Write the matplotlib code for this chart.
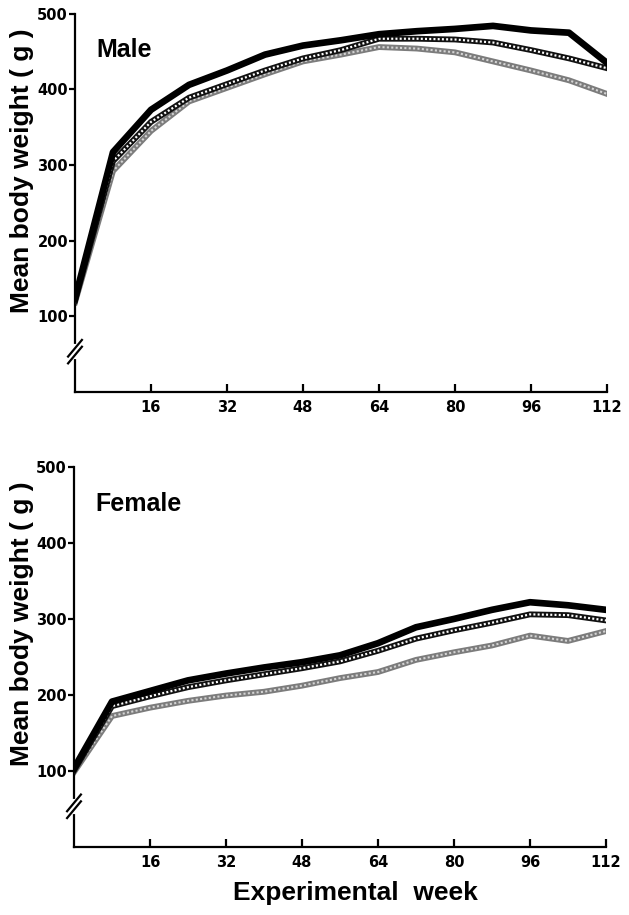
import matplotlib
matplotlib.use('Agg')
import matplotlib.pyplot as plt
import numpy as np

# experimental weeks (8-week intervals)
weeks = [0, 8, 16, 24, 32, 40, 48, 56, 64, 72, 80, 88, 96, 104, 112]

# Male mean body weight (g)
male_black = [123, 317, 373, 406, 425, 446, 458, 465, 473, 477, 480, 484, 478, 475, 435]
male_hatch = [120, 305, 357, 389, 407, 425, 441, 452, 467, 467, 466, 462, 452, 441, 428]
male_grey = [118, 292, 345, 384, 402, 420, 437, 446, 456, 454, 449, 437, 425, 412, 394]

# Female mean body weight (g)
female_black = [103, 191, 205, 219, 228, 236, 243, 252, 268, 289, 300, 312, 322, 318, 312]
female_hatch = [100, 185, 198, 210, 219, 227, 235, 244, 258, 274, 285, 295, 306, 305, 298]
female_grey = [98, 172, 183, 192, 199, 204, 212, 222, 230, 246, 256, 265, 278, 271, 284]

x_ticks = [16, 32, 48, 64, 80, 96, 112]
y_ticks = [100, 200, 300, 400, 500]

label_font = 'Liberation Sans'
tick_font = 'DejaVu Sans'

fig = plt.figure(figsize=(6.29, 9.15), dpi=100)


def draw_panel(ax, black, hatch, grey, title):
    # light grey textured line
    ax.plot(weeks, grey, color='#7c7c7c', lw=4.2, solid_joinstyle='round', zorder=2)
    ax.plot(weeks, grey, color='#d4d4d4', lw=1.5, ls=(0, (1, 1.1)), zorder=2.1)
    # cross-hatched line
    ax.plot(weeks, hatch, color='#111111', lw=4.2, solid_joinstyle='round', zorder=3)
    ax.plot(weeks, hatch, color='white', lw=1.6, ls=(0, (0.9, 1.0)), zorder=3.1)
    # solid black line
    ax.plot(weeks, black, color='black', lw=4.8, solid_joinstyle='round', zorder=4)

    ax.set_xlim(0, 112)
    ax.set_ylim(0, 500)
    ax.set_xticks(x_ticks)
    ax.set_yticks(y_ticks)
    ax.spines['top'].set_visible(False)
    ax.spines['right'].set_visible(False)
    ax.spines['left'].set_linewidth(1.6)
    ax.spines['bottom'].set_linewidth(1.6)
    ax.tick_params(axis='x', direction='in', length=6, width=1.6, pad=6)
    ax.tick_params(axis='y', direction='out', length=4, width=1.6, pad=1)
    for lab in ax.get_xticklabels() + ax.get_yticklabels():
        lab.set_fontfamily(tick_font)
        lab.set_fontweight('bold')
        lab.set_fontsize(10.5)

    ax.text(0.04, 0.885, title, transform=ax.transAxes, fontsize=18,
            fontweight='bold', family=label_font, ha='left', va='baseline')

    # axis break marks
    yb = 53 / 500
    ax.plot([0, 0], [yb - 0.014, yb + 0.014], transform=ax.transAxes,
            color='white', lw=3, clip_on=False, zorder=5)
    for dy in (-0.009, 0.009):
        ax.plot([-0.013, 0.013], [yb + dy - 0.022, yb + dy + 0.022],
                transform=ax.transAxes, color='black', lw=1.6,
                clip_on=False, zorder=6)


ax1 = fig.add_axes([75 / 629, 1 - 391.7 / 915, 532 / 629, 377.9 / 915])
draw_panel(ax1, male_black, male_hatch, male_grey, 'Male')

ax2 = fig.add_axes([74 / 629, 1 - 846.5 / 915, 532 / 629, 379.3 / 915])
draw_panel(ax2, female_black, female_hatch, female_grey, 'Female')

fig.text(0.035, 0.813, 'Mean body weight ( g )', rotation=90, fontsize=19,
         fontweight='bold', family=label_font, ha='center', va='center')
fig.text(0.035, 0.318, 'Mean body weight ( g )', rotation=90, fontsize=19,
         fontweight='bold', family=label_font, ha='center', va='center')
fig.text(355 / 629, 1 - 893 / 915, 'Experimental  week', fontsize=19,
         fontweight='bold', family=label_font, ha='center', va='center')

fig.savefig('out.png', dpi=100)
